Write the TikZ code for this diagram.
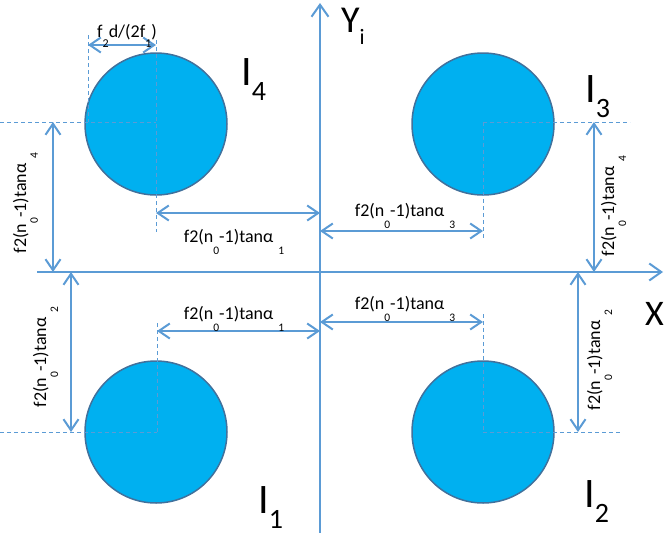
\documentclass[tikz,border=0pt]{standalone}
\usepackage{fontspec}
\setmainfont{Carlito}
\usetikzlibrary{arrows.meta}
\definecolor{axisblue}{HTML}{5B9BD5}
\definecolor{spotfill}{HTML}{00B0F0}
\definecolor{spotline}{HTML}{41719C}
\newcommand\dsub[1]{\raisebox{-12pt}{\fontsize{11.5}{11.5}\selectfont #1}}
\newcommand\dimlab[1]{f2(n\dsub{0}-1)tanα\hspace{5pt}\dsub{#1}}
\newcommand\biglab[2]{#1\raisebox{-15pt}{\fontsize{28}{28}\selectfont #2}}
\begin{document}
\begin{tikzpicture}[x=1pt,y=-1pt,
  spot/.style={circle,draw=spotline,line width=1.5pt,fill=spotfill,minimum size=142pt,inner sep=0pt},
  axisline/.style={draw=axisblue,line width=2pt,-{Straight Barb[length=12pt,width=17pt]}},
  dimline/.style={draw=axisblue,line width=2pt,{Straight Barb[length=11pt,width=15pt]}-{Straight Barb[length=11pt,width=15pt]}},
  guide/.style={draw=axisblue,line width=0.8pt,dash pattern=on 4pt off 3pt},
  dimtext/.style={font=\fontsize{18}{18}\selectfont,inner sep=0pt},
  bigtext/.style={font=\fontsize{42}{42}\selectfont,inner sep=0pt,anchor=base west}]
\useasboundingbox (0,0) rectangle (667,533);
% circles
\node[spot] (c4) at (156,124) {};
\node[spot] (c3) at (483,124) {};
\node[spot] (c1) at (156,432) {};
\node[spot] (c2) at (483,432) {};
% guide coordinates
\coordinate (g4a) at (88,35);
\coordinate (g4b) at (88,122);
\coordinate (g4c) at (156,40);
\coordinate (g4d) at (156,232);
\coordinate (g4e) at (0,122);
\coordinate (g4f) at (156,122);
\coordinate (g3a) at (483,122);
\coordinate (g3b) at (630,122);
\coordinate (g3c) at (483,238);
\coordinate (g1a) at (0,432);
\coordinate (g1b) at (157,432);
\coordinate (g1c) at (157,323);
\coordinate (g2a) at (483,432);
\coordinate (g2b) at (620,432);
\coordinate (g2c) at (483,314);
% dashed guides
\draw[guide] (g4a) -- (g4b);
\draw[guide] (g4c) -- (g4d);
\draw[guide] (g4e) -- (g4f);
\draw[guide] (g3a) -- (g3b);
\draw[guide] (g3a) -- (g3c);
\draw[guide] (g1a) -- (g1b);
\draw[guide] (g1c) -- (g1b);
\draw[guide] (g2a) -- (g2b);
\draw[guide] (g2c) -- (g2a);
% axes
\coordinate (xl) at (37,272);
\coordinate (xr) at (663,272);
\coordinate (yb) at (320,533);
\coordinate (yt) at (320,3);
\draw[axisline] (xl) -- (xr);
\draw[axisline] (yb) -- (yt);
% dimension end points
\coordinate (d0a) at (88,45);
\coordinate (d0b) at (156,45);
\coordinate (d1a) at (156,213);
\coordinate (d1b) at (320,213);
\coordinate (d2a) at (157,331);
\coordinate (d2b) at (320,331);
\coordinate (d3a) at (320,231);
\coordinate (d3b) at (483,231);
\coordinate (d4a) at (320,322);
\coordinate (d4b) at (483,322);
\coordinate (v1a) at (53,122);
\coordinate (v1b) at (53,272);
\coordinate (v2a) at (71,272);
\coordinate (v2b) at (71,432);
\coordinate (v3a) at (594,122);
\coordinate (v3b) at (594,272);
\coordinate (v4a) at (578,272);
\coordinate (v4b) at (578,432);
\draw[dimline] (d0a) -- (d0b);
\draw[dimline] (d1a) -- (d1b);
\draw[dimline] (d2a) -- (d2b);
\draw[dimline] (d3a) -- (d3b);
\draw[dimline] (d4a) -- (d4b);
\draw[dimline] (v1a) -- (v1b);
\draw[dimline] (v2a) -- (v2b);
\draw[dimline] (v3a) -- (v3b);
\draw[dimline] (v4a) -- (v4b);
% dimension labels
\node[dimtext,anchor=base] (t0) at (127,37) {f\raisebox{-10pt}{\fontsize{12}{12}\selectfont 2}d/(2f\raisebox{-10pt}{\fontsize{12}{12}\selectfont 1})};
\node[dimtext,anchor=base] (t1) at (234,242) {\dimlab{1}};
\node[dimtext,anchor=base] (t2) at (234,319) {\dimlab{1}};
\node[dimtext,anchor=base] (t3) at (405,216) {\dimlab{3}};
\node[dimtext,anchor=base] (t4) at (405,309) {\dimlab{3}};
\node[dimtext,anchor=base,rotate=90] (t5) at (26,203) {\dimlab{4}};
\node[dimtext,anchor=base,rotate=90] (t6) at (46,357) {\dimlab{2}};
\node[dimtext,anchor=base,rotate=90] (t7) at (614,206) {\dimlab{4}};
\node[dimtext,anchor=base,rotate=90] (t8) at (600,360) {\dimlab{2}};
% quadrant labels
\node[bigtext] (q4) at (241,85) {\biglab{I}{4}};
\node[bigtext] (q3) at (585,102) {\biglab{I}{3}};
\node[bigtext] (q1) at (258,513) {\biglab{I}{1}};
\node[bigtext] (q2) at (584,507) {\biglab{I}{2}};
\node[inner sep=0pt,anchor=base west,font=\fontsize{38}{38}\selectfont] (ylab) at (341,32) {Y\raisebox{-12pt}{\fontsize{22}{22}\selectfont i}};
\node[inner sep=0pt,anchor=base west,font=\fontsize{36}{36}\selectfont] (xlab) at (645,325) {X};
\end{tikzpicture}
\end{document}
